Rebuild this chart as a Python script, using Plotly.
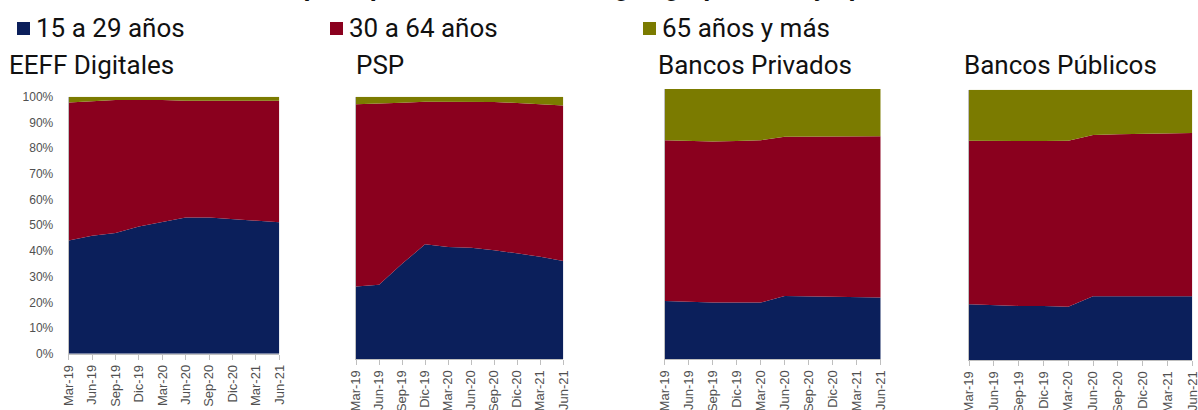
import plotly.graph_objects as go

# ---------------- data ----------------
periods = ["Mar-19", "Jun-19", "Sep-19", "Dic-19", "Mar-20", "Jun-20",
           "Sep-20", "Dic-20", "Mar-21", "Jun-21"]
series_names = ["15 a 29 años", "30 a 64 años", "65 años y más"]
panel_titles = ["EEFF Digitales", "PSP", "Bancos Privados", "Bancos Públicos"]
title_text = "Gráfico 5: Edad del titular principal de las cuentas según grupo etario y tipo de entidad"

# shares (%) per panel
eeff_15_29 = [44.0, 45.9, 47.0, 49.5, 51.2, 53.0, 53.0, 52.3, 51.6, 51.1]
eeff_30_64 = [53.7, 52.4, 51.7, 49.2, 47.5, 45.4, 45.4, 46.1, 46.8, 47.3]
eeff_65 = [2.3, 1.7, 1.3, 1.3, 1.3, 1.6, 1.6, 1.6, 1.6, 1.6]

psp_15_29 = [27.6, 28.3, 36.3, 43.7, 42.7, 42.4, 41.5, 40.2, 39.0, 37.4]
psp_30_64 = [69.5, 69.0, 61.4, 54.4, 55.4, 55.7, 56.5, 57.4, 58.2, 59.2]
psp_65 = [2.9, 2.7, 2.3, 1.9, 1.9, 1.9, 2.0, 2.4, 2.8, 3.4]

priv_15_29 = [21.5, 21.1, 20.9, 20.9, 20.9, 23.3, 23.2, 23.0, 22.8, 22.8]
priv_30_64 = [59.5, 59.6, 59.7, 59.8, 60.1, 59.0, 59.1, 59.3, 59.5, 59.7]
priv_65 = [19.0, 19.3, 19.4, 19.3, 19.0, 17.7, 17.7, 17.7, 17.7, 17.5]

pub_15_29 = [20.6, 20.2, 20.0, 20.0, 19.7, 23.6, 23.7, 23.6, 23.6, 23.6]
pub_30_64 = [60.5, 60.8, 61.0, 61.0, 61.4, 59.6, 59.8, 60.0, 60.1, 60.4]
pub_65 = [18.9, 19.0, 19.0, 19.0, 18.9, 16.8, 16.5, 16.4, 16.3, 16.0]

panels = [
    (eeff_15_29, eeff_30_64, eeff_65),
    (psp_15_29, psp_30_64, psp_65),
    (priv_15_29, priv_30_64, priv_65),
    (pub_15_29, pub_30_64, pub_65),
]

# ---------------- style ----------------
colors = ["#0B1F5B", "#8A001E", "#7B7B00"]
W, H = 1198, 410
# panel boxes in pixels: (left, right, top, bottom)
boxes = [
    (68.7, 279.3, 96.7, 353.7),
    (356.0, 563.3, 96.7, 359.0),
    (664.7, 880.7, 89.0, 359.0),
    (969.0, 1192.3, 89.7, 360.0),
]
title_x = [7, 354, 656, 962]
legend_x = [17, 330, 643]
tick_grey = "#505050"
axis_grey = "#BFBFBF"
FONT = "Roboto"

fig = go.Figure()

for i, (vals, box) in enumerate(zip(panels, boxes)):
    xa = "x" if i == 0 else f"x{i+1}"
    ya = "y" if i == 0 else f"y{i+1}"
    for k, (v, c) in enumerate(zip(vals, colors)):
        fig.add_trace(go.Scatter(
            x=periods, y=[val / 100 for val in v], xaxis=xa, yaxis=ya,
            mode="lines", line=dict(width=0, color=c),
            fillcolor=c, stackgroup=f"g{i}", showlegend=False,
            hoverinfo="skip"))
    l, r, t, b = box
    xkey = "xaxis" if i == 0 else f"xaxis{i+1}"
    ykey = "yaxis" if i == 0 else f"yaxis{i+1}"
    fig.layout[xkey] = dict(
        domain=[l / W, r / W], anchor=ya, type="category",
        categoryorder="array", categoryarray=periods,
        range=[0, len(periods) - 1], dtick=1,
        tickangle=-90, ticks="outside", ticklen=5, tickcolor=axis_grey,
        showline=True, linecolor=axis_grey, linewidth=1,
        showgrid=False, zeroline=False, automargin=False,
        tickfont=dict(family="Liberation Sans", size=13, color=tick_grey),
        fixedrange=True)
    fig.layout[ykey] = dict(
        domain=[1 - b / H, 1 - t / H], anchor=xa,
        range=[0, 1], dtick=0.1, tickformat=".0%",
        showticklabels=(i == 0), ticks="", ticklabelstandoff=12,
        showline=True, linecolor=axis_grey, linewidth=1,
        showgrid=False, zeroline=False, automargin=False,
        tickfont=dict(family="Liberation Sans", size=12, color=tick_grey),
        fixedrange=True)

annotations = []
shapes = []
# legend drawn as squares + text
for name, c, lx in zip(series_names, colors, legend_x):
    shapes.append(dict(
        type="rect", xref="paper", yref="paper",
        x0=lx / W, x1=(lx + 13) / W, y0=1 - 35 / H, y1=1 - 22 / H,
        fillcolor=c, line=dict(width=0)))
    annotations.append(dict(
        text=name, x=(lx + 17) / W, y=1 - 28 / H, xref="paper", yref="paper",
        xanchor="left", yanchor="middle", showarrow=False,
        font=dict(family=FONT, size=26, color="#111111")))

for txt, x in zip(panel_titles, title_x):
    annotations.append(dict(
        text=txt, x=x / W, y=1 - 65 / H, xref="paper", yref="paper",
        xanchor="left", yanchor="middle", showarrow=False,
        font=dict(family=FONT, size=26, color="#111111")))
annotations.append(dict(
    text=f"<b>{title_text}</b>", x=0 / W, y=1 - 4 / H, xref="paper",
    yref="paper", xanchor="left", yanchor="bottom", showarrow=False,
    font=dict(family=FONT, size=26, color="#111111")))

fig.update_layout(
    width=W, height=H, autosize=False,
    margin=dict(l=0, r=0, t=0, b=0, autoexpand=False),
    paper_bgcolor="white", plot_bgcolor="white",
    showlegend=False,
    annotations=annotations,
    shapes=shapes,
)

fig.write_html("out.html")
